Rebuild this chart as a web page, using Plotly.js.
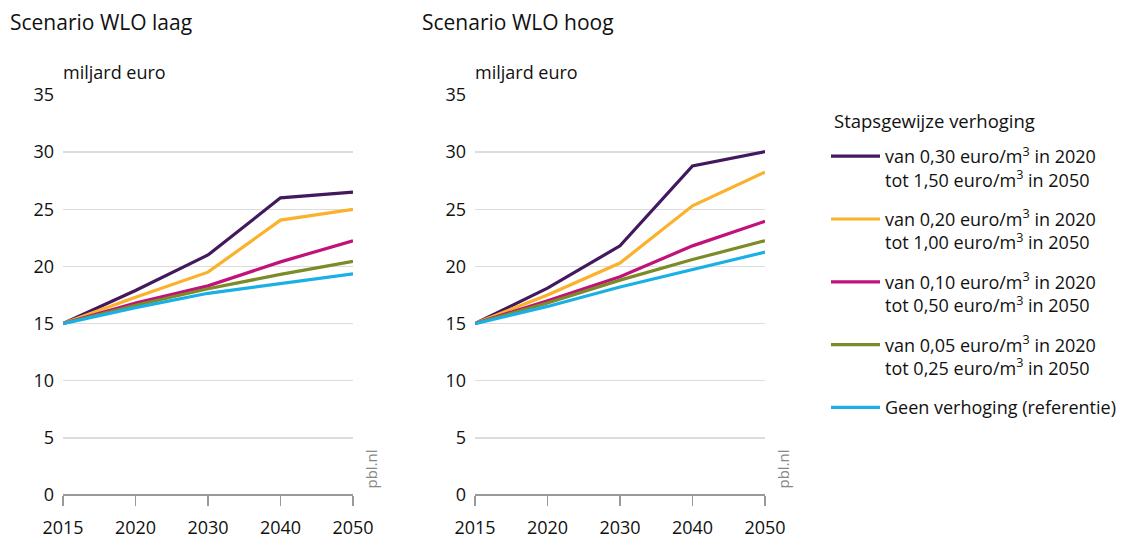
<!DOCTYPE html>
<html>
<head>
<meta charset="utf-8">
<script src="https://cdn.plot.ly/plotly-3.0.1.min.js"></script>
<style>html,body{margin:0;padding:0;background:#fff;}#chart{width:1127px;height:539px;}</style>
</head>
<body>
<div id="chart"></div>
<script>
const years = ['2015', '2020', '2030', '2040', '2050'];

const seriesNames = [
  'van 0,30 euro/m<sup>3</sup> in 2020<br>tot 1,50 euro/m<sup>3</sup> in 2050',
  'van 0,20 euro/m<sup>3</sup> in 2020<br>tot 1,00 euro/m<sup>3</sup> in 2050',
  'van 0,10 euro/m<sup>3</sup> in 2020<br>tot 0,50 euro/m<sup>3</sup> in 2050',
  'van 0,05 euro/m<sup>3</sup> in 2020<br>tot 0,25 euro/m<sup>3</sup> in 2050',
  'Geen verhoging (referentie)'
];
const seriesColors = ['#42185f', '#fbb12b', '#c0127a', '#7b8c26', '#1ab0e6'];
const legendTitle = 'Stapsgewijze verhoging';

// Scenario WLO laag
const laag030 = [15.0, 17.9, 21.0, 26.0, 26.5];
const laag020 = [15.0, 17.3, 19.5, 24.05, 25.0];
const laag010 = [15.0, 16.8, 18.3, 20.4, 22.25];
const laag005 = [15.0, 16.6, 18.05, 19.3, 20.45];
const laagRef = [15.0, 16.4, 17.65, 18.5, 19.35];

// Scenario WLO hoog
const hoog030 = [15.0, 18.1, 21.8, 28.8, 30.05];
const hoog020 = [15.0, 17.5, 20.3, 25.3, 28.25];
const hoog010 = [15.0, 17.0, 19.1, 21.8, 23.95];
const hoog005 = [15.0, 16.8, 18.8, 20.6, 22.25];
const hoogRef = [15.0, 16.5, 18.2, 19.75, 21.25];

const laag = [laag030, laag020, laag010, laag005, laagRef];
const hoog = [hoog030, hoog020, hoog010, hoog005, hoogRef];

const FONT = 'Open Sans, Noto Sans, sans-serif';
const traces = [];
for (let i = 0; i < seriesNames.length; i++) {
  traces.push({
    x: years, y: laag[i], type: 'scatter', mode: 'lines',
    name: seriesNames[i], legendgroup: 'g' + i, legendrank: i + 1,
    line: {color: seriesColors[i], width: 3.2},
    xaxis: 'x', yaxis: 'y', showlegend: true, hoverinfo: 'skip'
  });
  traces.push({
    x: years, y: hoog[i], type: 'scatter', mode: 'lines',
    name: seriesNames[i], legendgroup: 'g' + i, legendrank: i + 1,
    line: {color: seriesColors[i], width: 3.2},
    xaxis: 'x2', yaxis: 'y2', showlegend: false, hoverinfo: 'skip'
  });
}

const W = 1127, H = 539;
const px = v => v / W;
const py = v => 1 - v / H;

const xaxisBase = {
  type: 'category', range: [0, 4], showgrid: false, zeroline: false,
  showline: false, ticks: 'outside', ticklen: 10, tickwidth: 1.5, tickcolor: '#999',
  tickfont: {family: FONT, size: 18, color: '#111'}, ticklabelstandoff: 6,
  fixedrange: true
};
const yaxisBase = {
  range: [0, 35], tickvals: [0, 5, 10, 15, 20, 25, 30, 35],
  showgrid: true, gridcolor: '#dcdcdc', gridwidth: 1.5,
  zeroline: true, zerolinecolor: '#999', zerolinewidth: 1.5,
  showline: false, ticks: '', ticklabelstandoff: 8,
  tickfont: {family: FONT, size: 18, color: '#111'}, fixedrange: true
};

const layout = {
  width: W, height: H,
  margin: {l: 0, r: 0, t: 0, b: 0},
  paper_bgcolor: '#fff', plot_bgcolor: '#fff',
  font: {family: FONT, color: '#111'},
  xaxis: Object.assign({}, xaxisBase, {domain: [px(63), px(353)], anchor: 'y'}),
  yaxis: Object.assign({}, yaxisBase, {domain: [py(495), py(95)], anchor: 'x'}),
  xaxis2: Object.assign({}, xaxisBase, {domain: [px(475), px(765)], anchor: 'y2'}),
  yaxis2: Object.assign({}, yaxisBase, {domain: [py(495), py(95)], anchor: 'x2'}),
  showlegend: true,
  legend: {
    x: px(826), y: py(138), xanchor: 'left', yanchor: 'top',
    valign: 'top', traceorder: 'grouped', tracegroupgap: 13,
    font: {family: FONT, size: 18, color: '#111'},
    bgcolor: 'rgba(0,0,0,0)', borderwidth: 0, itemwidth: 49
  },
  annotations: [
    {text: 'Scenario WLO laag', x: px(8), y: py(22), xref: 'paper', yref: 'paper',
     xanchor: 'left', yanchor: 'middle', showarrow: false, font: {family: FONT, size: 21, color: '#111'}},
    {text: 'Scenario WLO hoog', x: px(420), y: py(22), xref: 'paper', yref: 'paper',
     xanchor: 'left', yanchor: 'middle', showarrow: false, font: {family: FONT, size: 21, color: '#111'}},
    {text: 'miljard euro', x: px(61), y: py(72), xref: 'paper', yref: 'paper',
     xanchor: 'left', yanchor: 'middle', showarrow: false, font: {family: FONT, size: 18, color: '#111'}},
    {text: 'miljard euro', x: px(473), y: py(72), xref: 'paper', yref: 'paper',
     xanchor: 'left', yanchor: 'middle', showarrow: false, font: {family: FONT, size: 18, color: '#111'}},
    {text: legendTitle, x: px(832), y: py(120), xref: 'paper', yref: 'paper',
     xanchor: 'left', yanchor: 'middle', showarrow: false, font: {family: FONT, size: 18.5, color: '#111'}},
    {text: 'pbl.nl', x: px(370), y: py(491), xref: 'paper', yref: 'paper', textangle: -90,
     xanchor: 'center', yanchor: 'bottom', showarrow: false, font: {family: FONT, size: 15, color: '#888'}},
    {text: 'pbl.nl', x: px(782), y: py(491), xref: 'paper', yref: 'paper', textangle: -90,
     xanchor: 'center', yanchor: 'bottom', showarrow: false, font: {family: FONT, size: 15, color: '#888'}}
  ]
};

Plotly.newPlot('chart', traces, layout, {displayModeBar: false, staticPlot: true});
</script>
</body>
</html>
